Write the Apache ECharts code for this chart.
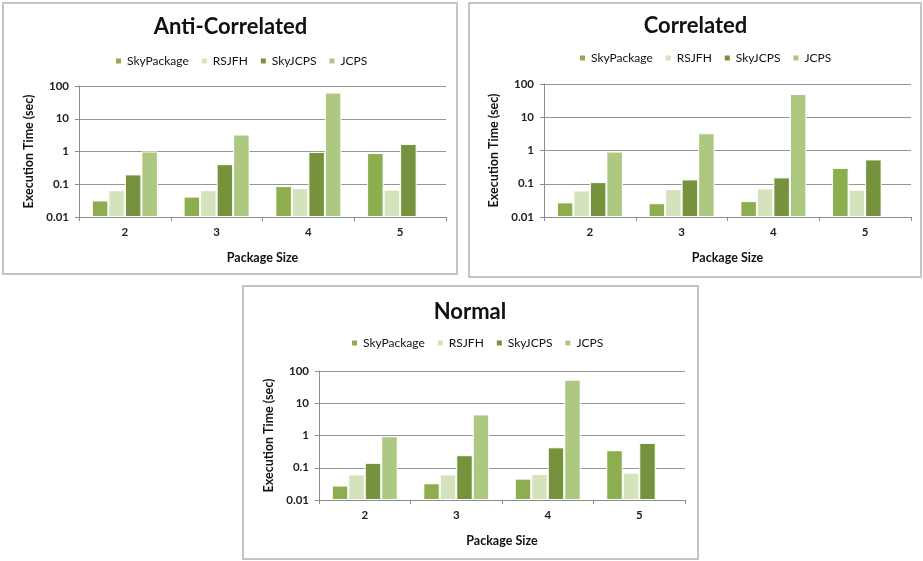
<!DOCTYPE html>
<html>
<head>
<meta charset="utf-8">
<title>Execution Time</title>
<script src="https://cdn.jsdelivr.net/npm/echarts@6/dist/echarts.min.js"></script>
<style>
  html, body { margin: 0; padding: 0; background: #fff; }
  #chart { width: 923px; height: 561px; }
</style>
</head>
<body>
<div id="chart"></div>
<script>
// Data
var categories = ['2', '3', '4', '5'];
var seriesNames = ['SkyPackage', 'RSJFH', 'SkyJCPS', 'JCPS'];
var yTickLabels = ['0.01', '0.1', '1', '10', '100'];

var antiSkyPackage = [0.032, 0.042, 0.088, 0.9];
var antiRSJFH = [0.066, 0.066, 0.076, 0.069];
var antiSkyJCPS = [0.2, 0.41, 0.97, 1.7];
var antiJCPS = [1.0, 3.3, 63, null];

var corrSkyPackage = [0.0275, 0.026, 0.03, 0.3];
var corrRSJFH = [0.063, 0.069, 0.072, 0.066];
var corrSkyJCPS = [0.112, 0.135, 0.155, 0.54];
var corrJCPS = [0.93, 3.3, 50, null];

var normSkyPackage = [0.028, 0.033, 0.046, 0.35];
var normRSJFH = [0.062, 0.062, 0.064, 0.07];
var normSkyJCPS = [0.142, 0.245, 0.43, 0.59];
var normJCPS = [0.95, 4.5, 54, null];

var colors = ['#8cae4f', '#d5e3bc', '#76923c', '#adc981'];
var font = 'Lato, "Open Sans", sans-serif';

// each panel: box, title, grid, legend
var panels = [
    { title: 'Anti-Correlated', box: [3, 3, 454, 271], grid: [79, 86, 367, 131], titleY: 27, legend: [114, 55],
      data: [antiSkyPackage, antiRSJFH, antiSkyJCPS, antiJCPS] },
    { title: 'Correlated', box: [469, 3, 452, 274], grid: [544, 84, 367, 133], titleY: 26, legend: [578, 52],
      data: [corrSkyPackage, corrRSJFH, corrSkyJCPS, corrJCPS] },
    { title: 'Normal', box: [243, 286, 455, 273], grid: [319, 371, 366, 129], titleY: 312, legend: [350, 337],
      data: [normSkyPackage, normRSJFH, normSkyJCPS, normJCPS] }
];

var option = {
    animation: false,
    color: colors,
    textStyle: { fontFamily: font },
    graphic: [],
    grid: [],
    legend: [],
    xAxis: [],
    yAxis: [],
    series: []
};

panels.forEach(function (p, i) {
    option.graphic.push({
        type: 'rect', silent: true,
        shape: { x: p.box[0], y: p.box[1], width: p.box[2], height: p.box[3] },
        style: { fill: 'none', stroke: '#c4c4c4', lineWidth: 2 }
    });
    option.graphic.push({
        type: 'text', silent: true,
        x: p.grid[0] + p.grid[2] / 2 - 32, y: p.titleY,
        style: {
            text: p.title, textAlign: 'center', textVerticalAlign: 'middle',
            font: 'bold 22px ' + font, fill: '#111'
        }
    });
    option.grid.push({ left: p.grid[0], top: p.grid[1], width: p.grid[2], height: p.grid[3] });
    option.legend.push({
        left: p.legend[0], top: p.legend[1], padding: 0,
        icon: 'rect', itemWidth: 7, itemHeight: 7, itemGap: 11,
        textStyle: { fontSize: 12, color: '#111', fontFamily: font },
        data: seriesNames
    });
    option.xAxis.push({
        type: 'category', gridIndex: i, data: categories,
        name: 'Package Size', nameLocation: 'middle', nameGap: 34,
        nameTextStyle: { fontSize: 12.5, fontWeight: 'bold', color: '#111' },
        axisLine: { lineStyle: { color: '#8c8c8c' } },
        axisTick: { show: true, length: 4, lineStyle: { color: '#8c8c8c' } },
        axisLabel: { fontSize: 11.5, fontWeight: 'bold', color: '#222', margin: 9 }
    });
    option.yAxis.push({
        type: 'log', gridIndex: i, logBase: 10, min: 0.01, max: 100, startValue: 0.01,
        name: 'Execution Time (sec)', nameLocation: 'middle', nameGap: 44,
        nameTextStyle: { fontSize: 12.5, fontWeight: 'bold', color: '#111' },
        axisLine: { show: true, lineStyle: { color: '#8c8c8c' } },
        axisTick: { show: true, length: 4, lineStyle: { color: '#8c8c8c' } },
        splitLine: { lineStyle: { color: '#959595' } },
        axisLabel: {
            fontSize: 11.5, fontWeight: 'bold', color: '#222', margin: 10,
            formatter: function (v) { return yTickLabels[Math.round(Math.log10(v)) + 2]; }
        }
    });
    seriesNames.forEach(function (name, k) {
        option.series.push({
            name: name, type: 'bar', xAxisIndex: i, yAxisIndex: i,
            barGap: '0%', barCategoryGap: '28%',
            itemStyle: { borderColor: '#fff', borderWidth: 1 },
            data: p.data[k]
        });
    });
});

var myChart = echarts.init(document.getElementById('chart'));
myChart.setOption(option);
</script>
</body>
</html>
